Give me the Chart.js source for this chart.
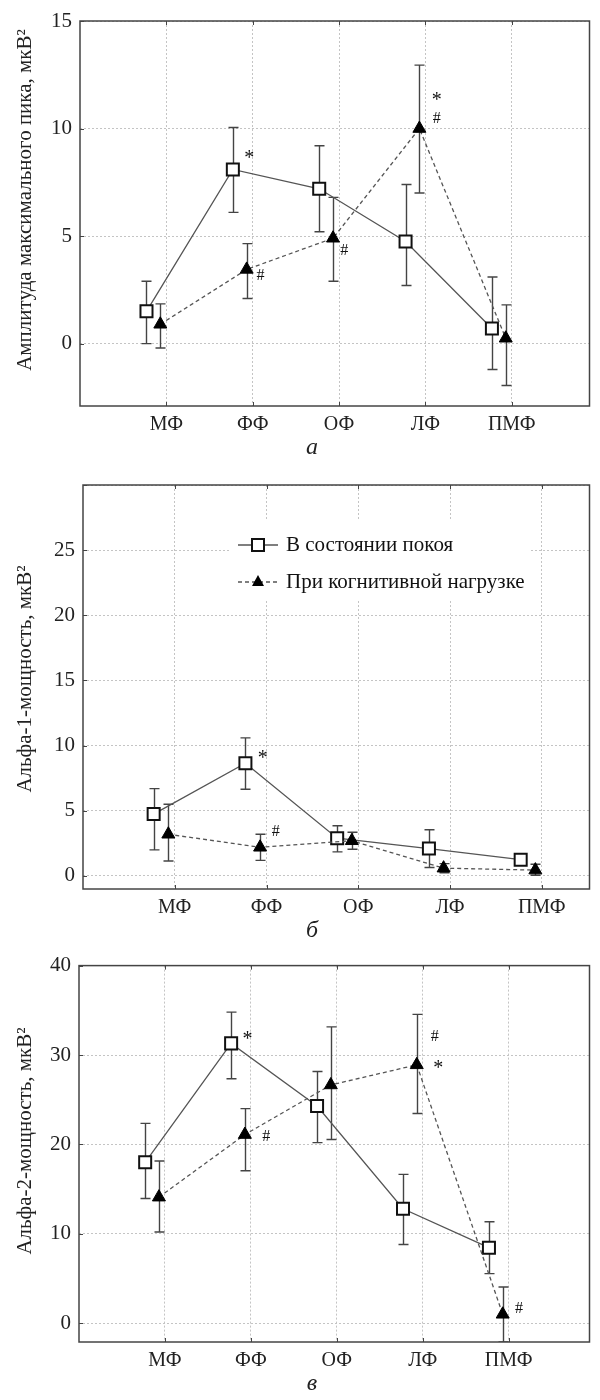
<!DOCTYPE html>
<html>
<head>
<meta charset="utf-8">
<script src="https://cdn.jsdelivr.net/npm/chart.js@4.4.1/dist/chart.umd.min.js"></script>
<style>
  body { margin: 0; background: #fff; width: 600px; height: 1400px; overflow: hidden; }
  .panel { position: absolute; left: 0; width: 600px; }
  canvas { display: block; }
</style>
</head>
<body>
<div class="panel" style="top:0"><canvas id="chartA" width="600" height="460"></canvas></div>
<div class="panel" style="top:460px"><canvas id="chartB" width="600" height="485"></canvas></div>
<div class="panel" style="top:945px"><canvas id="chartC" width="600" height="455"></canvas></div>
<script>
// categories (brain regions)
const regions = ['МФ', 'ФФ', 'ОФ', 'ЛФ', 'ПМФ'];
const restLabel = 'В состоянии покоя';
const loadLabel = 'При когнитивной нагрузке';

// а: amplitude of max peak
const ampRest   = [1.5, 8.1, 7.2, 4.75, 0.7];
const ampRestLo = [0.0, 6.1, 5.2, 2.7, -1.2];
const ampRestHi = [2.9, 10.05, 9.2, 7.4, 3.1];
const ampLoad   = [0.9, 3.45, 4.9, 10.0, 0.25];
const ampLoadLo = [-0.2, 2.1, 2.9, 7.0, -1.95];
const ampLoadHi = [1.85, 4.65, 6.8, 12.95, 1.8];
const ampTicks  = [0, 5, 10, 15];
const ampNotes  = [['*', 1.96, 8.8], ['#', 2.09, 3.16], ['#', 3.06, 4.3], ['*', 4.13, 11.5], ['#', 4.13, 10.45]];

// б: alpha-1 power
const a1Rest   = [4.75, 8.65, 2.9, 2.1, 1.25];
const a1RestLo = [2.0, 6.65, 1.85, 0.65, 1.0];
const a1RestHi = [6.7, 10.6, 3.85, 3.55, 1.5];
const a1Load   = [3.2, 2.2, 2.7, 0.6, 0.45];
const a1LoadLo = [1.15, 1.2, 2.05, 0.25, 0.05];
const a1LoadHi = [5.5, 3.2, 3.35, 0.95, 0.9];
const a1Ticks  = [0, 5, 10, 15, 20, 25, 30];
const a1Notes  = [['*', 1.96, 9.3], ['#', 2.1, 3.4]];

// в: alpha-2 power
const a2Rest   = [18.0, 31.3, 24.3, 12.8, 8.45];
const a2RestLo = [13.95, 27.35, 20.2, 8.8, 5.55];
const a2RestHi = [22.35, 34.8, 28.15, 16.65, 11.35];
const a2Load   = [14.1, 21.1, 26.65, 28.9, 1.0];
const a2LoadLo = [10.2, 17.05, 20.55, 23.45, -2.1];
const a2LoadHi = [18.15, 24.0, 33.15, 34.55, 4.05];
const a2Ticks  = [0, 10, 20, 30, 40];
const a2Notes  = [['*', 1.96, 32.2], ['#', 2.18, 20.9], ['#', 4.14, 32.0], ['*', 4.18, 28.9], ['#', 5.12, 1.65]];

const SERIF = '"Liberation Serif", "DejaVu Serif", serif';
const INK = '#222';
const LINE = '#555';

// markers sit a little left of the category line, rest further left than load
const REST_SHIFT = -0.23;
const LOAD_SHIFT = -0.07;

const toPoints = (vals, shift) => vals.map((v, i) => ({ x: i + 1 + shift, y: v }));

// error bars, frame, notes, captions, legend
const decor = {
  id: 'decor',
  beforeDatasetsDraw(chart) {
    const { ctx, chartArea: a, scales: { x, y } } = chart;
    ctx.save();
    ctx.beginPath();
    ctx.rect(a.left, a.top, a.right - a.left, a.bottom - a.top);
    ctx.clip();
    ctx.strokeStyle = '#444';
    ctx.lineWidth = 1.4;
    chart.data.datasets.forEach(ds => {
      ds.data.forEach((p, i) => {
        const px = Math.round(x.getPixelForValue(p.x)) + 0.5;
        const top = y.getPixelForValue(ds.errHi[i]);
        const bot = y.getPixelForValue(ds.errLo[i]);
        ctx.beginPath();
        ctx.moveTo(px, top); ctx.lineTo(px, bot);
        ctx.moveTo(px - 5, top); ctx.lineTo(px + 5, top);
        ctx.moveTo(px - 5, bot); ctx.lineTo(px + 5, bot);
        ctx.stroke();
      });
    });
    ctx.restore();
  },
  afterDraw(chart, args, opts) {
    const { ctx, chartArea: a, scales: { x, y } } = chart;
    ctx.save();
    // frame with small inner ticks
    ctx.strokeStyle = '#444';
    ctx.lineWidth = 1.5;
    ctx.strokeRect(a.left, a.top, a.right - a.left, a.bottom - a.top);
    ctx.lineWidth = 1;
    ctx.beginPath();
    x.ticks.forEach(t => {
      const px = Math.round(x.getPixelForValue(t.value)) + 0.5;
      ctx.moveTo(px, a.top); ctx.lineTo(px, a.top + 4);
      ctx.moveTo(px, a.bottom); ctx.lineTo(px, a.bottom - 4);
    });
    y.ticks.forEach(t => {
      const py = Math.round(y.getPixelForValue(t.value)) + 0.5;
      ctx.moveTo(a.left, py); ctx.lineTo(a.left + 4, py);
    });
    ctx.stroke();

    // significance marks
    ctx.fillStyle = '#111';
    ctx.textAlign = 'center';
    ctx.textBaseline = 'middle';
    opts.notes.forEach(([txt, cx, cy]) => {
      ctx.font = txt === '*' ? '20px ' + SERIF : '16px ' + SERIF;
      ctx.fillText(txt, x.getPixelForValue(cx), y.getPixelForValue(cy) + (txt === '*' ? 4 : 0));
    });

    // y title
    ctx.save();
    ctx.translate(25, opts.titleY);
    ctx.rotate(-Math.PI / 2);
    ctx.font = '21px ' + SERIF;
    ctx.fillStyle = INK;
    ctx.fillText(opts.yTitle, 0, 0);
    ctx.restore();

    // panel letter
    ctx.font = 'italic 24px ' + SERIF;
    ctx.fillStyle = INK;
    ctx.fillText(opts.caption, 312, a.bottom + 42);

    // legend inside the plot
    if (opts.legend) {
      const [lx, ly] = opts.legend;
      ctx.fillStyle = '#fff';
      ctx.fillRect(lx - 8, ly - 24, 300, 80);
      [restLabel, loadLabel].forEach((label, k) => {
        const yy = ly + k * 37;
        ctx.strokeStyle = LINE;
        ctx.lineWidth = 1.3;
        ctx.setLineDash(k ? [4, 3] : []);
        ctx.beginPath();
        ctx.moveTo(lx, yy); ctx.lineTo(lx + 40, yy);
        ctx.stroke();
        ctx.setLineDash([]);
        if (k === 0) {
          ctx.fillStyle = '#fff';
          ctx.fillRect(lx + 14, yy - 6, 12, 12);
          ctx.strokeStyle = '#111';
          ctx.lineWidth = 2;
          ctx.strokeRect(lx + 14, yy - 6, 12, 12);
        } else {
          ctx.fillStyle = '#000';
          ctx.beginPath();
          ctx.moveTo(lx + 20, yy - 7);
          ctx.lineTo(lx + 26, yy + 4);
          ctx.lineTo(lx + 14, yy + 4);
          ctx.closePath();
          ctx.fill();
        }
        ctx.fillStyle = '#111';
        ctx.textAlign = 'left';
        ctx.font = '21px ' + SERIF;
        ctx.fillText(label, lx + 48, yy);
      });
    }
    ctx.restore();
  }
};

const makeChart = (id, p) => new Chart(document.getElementById(id), {
  type: 'scatter',
  data: {
    datasets: [
      {
        label: loadLabel,
        data: toPoints(p.load, LOAD_SHIFT),
        errLo: p.loadLo, errHi: p.loadHi,
        showLine: true,
        borderColor: LINE, borderWidth: 1.3, borderDash: [4, 3],
        pointStyle: 'triangle', pointRadius: 7.5,
        pointBackgroundColor: '#000', pointBorderColor: '#000', pointBorderWidth: 1
      },
      {
        label: restLabel,
        data: toPoints(p.rest, REST_SHIFT),
        errLo: p.restLo, errHi: p.restHi,
        showLine: true,
        borderColor: LINE, borderWidth: 1.3,
        pointStyle: 'rect', pointRadius: 8.5,
        pointBackgroundColor: '#fff', pointBorderColor: '#111', pointBorderWidth: 2
      }
    ]
  },
  options: {
    responsive: false,
    animation: false,
    events: [],
    layout: { padding: { top: p.padTop, bottom: p.padBottom, right: 1, left: 0 } },
    plugins: {
      legend: { display: false },
      tooltip: { enabled: false },
      decor: { notes: p.notes, yTitle: p.yTitle, titleY: p.titleY, caption: p.caption, legend: p.legend }
    },
    scales: {
      x: {
        type: 'linear', min: 0, max: p.xMax,
        afterBuildTicks: s => { s.ticks = regions.map((r, i) => ({ value: i + 1 })); },
        afterFit: s => { s.height = 50; },
        ticks: { callback: v => regions[v - 1], font: { family: SERIF, size: 20 }, color: INK, padding: 7, maxRotation: 0, autoSkip: false },
        grid: { color: '#c4c4c4', lineWidth: 1, drawTicks: false },
        border: { display: false, dash: [2, 2] }
      },
      y: {
        min: p.yMin, max: p.yMax,
        afterBuildTicks: s => { s.ticks = p.yTicks.map(v => ({ value: v })); },
        afterFit: s => { s.width = p.left; },
        ticks: { callback: v => (p.hideTop && v === p.yMax ? '' : v), font: { family: SERIF, size: 21 }, color: INK, padding: 8 },
        grid: { color: '#c4c4c4', lineWidth: 1, drawTicks: false },
        border: { display: false, dash: [2, 2] }
      }
    }
  },
  plugins: [decor]
});

makeChart('chartA', {
  rest: ampRest, restLo: ampRestLo, restHi: ampRestHi,
  load: ampLoad, loadLo: ampLoadLo, loadHi: ampLoadHi,
  yMin: -2.9, yMax: 15, yTicks: ampTicks, xMax: 5.9,
  left: 80, padTop: 21, padBottom: 4,
  notes: ampNotes, yTitle: 'Амплитуда максимального пика, мкВ²', titleY: 200, caption: 'а'
});

makeChart('chartB', {
  rest: a1Rest, restLo: a1RestLo, restHi: a1RestHi,
  load: a1Load, loadLo: a1LoadLo, loadHi: a1LoadHi,
  yMin: -1, yMax: 30, yTicks: a1Ticks, xMax: 5.52, hideTop: true,
  left: 83, padTop: 25, padBottom: 6,
  notes: a1Notes, yTitle: 'Альфа-1-мощность, мкВ²', titleY: 219, caption: 'б',
  legend: [238, 85]
});

makeChart('chartC', {
  rest: a2Rest, restLo: a2RestLo, restHi: a2RestHi,
  load: a2Load, loadLo: a2LoadLo, loadHi: a2LoadHi,
  yMin: -2.1, yMax: 40, yTicks: a2Ticks, xMax: 5.94,
  left: 79, padTop: 18, padBottom: 8,
  notes: a2Notes, yTitle: 'Альфа-2-мощность, мкВ²', titleY: 196, caption: 'в'
});
</script>
</body>
</html>
